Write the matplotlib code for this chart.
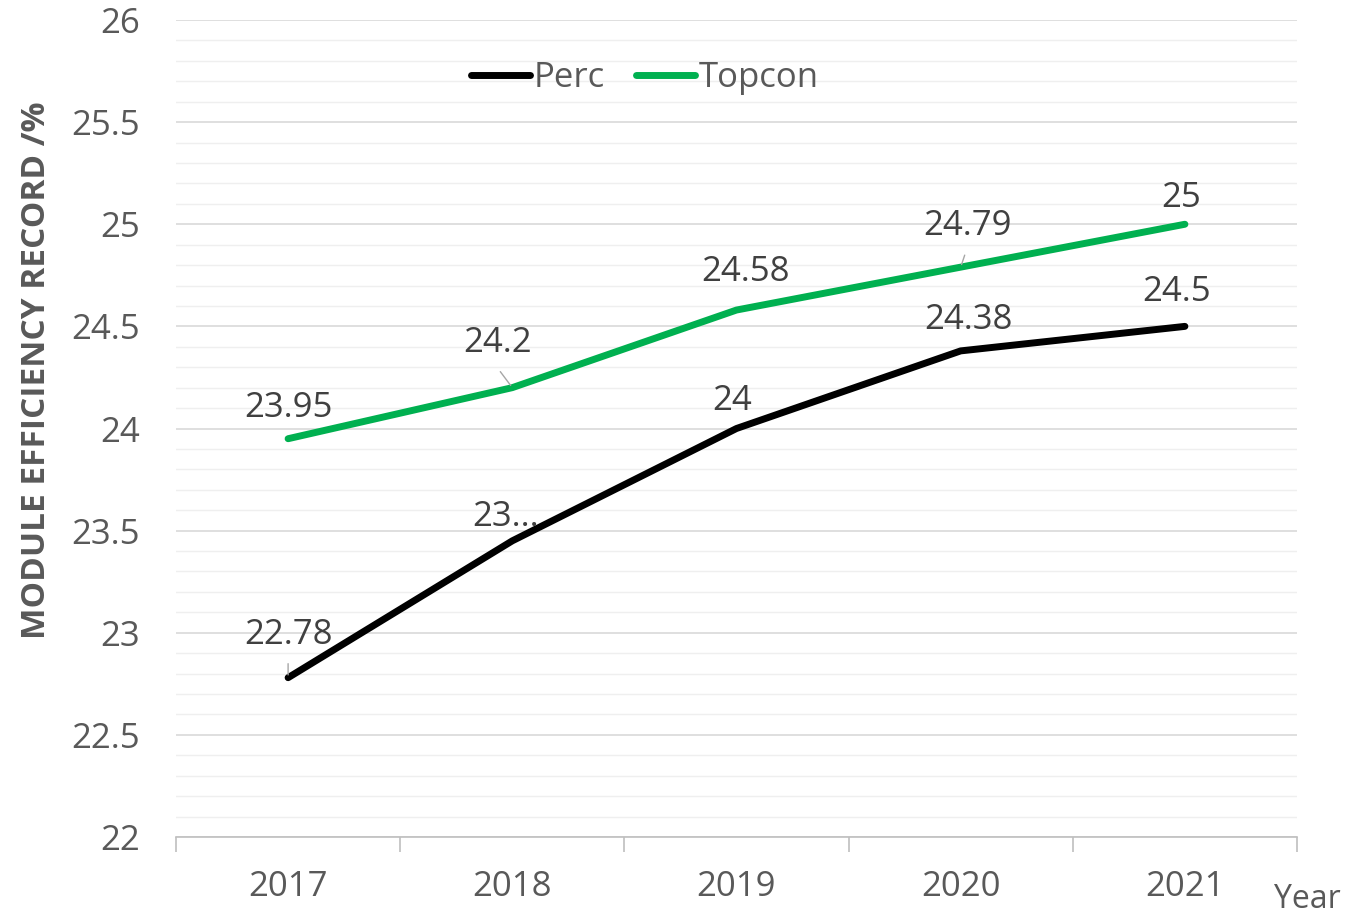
import matplotlib
matplotlib.use("Agg")
import matplotlib.pyplot as plt
from matplotlib.ticker import MultipleLocator

years = ["2017", "2018", "2019", "2020", "2021"]
perc = [22.78, 23.45, 24.0, 24.38, 24.5]
topcon = [23.95, 24.2, 24.58, 24.79, 25.0]
perc_labels = ["22.78", "23...", "24", "24.38", "24.5"]
topcon_labels = ["23.95", "24.2", "24.58", "24.79", "25"]

plt.rcParams['font.family'] = ['Open Sans', 'DejaVu Sans']
txt = "#595959"

fig = plt.figure(figsize=(13.51, 9.16), dpi=100)
ax = fig.add_axes([176/1351, 1-837/916, (1297-176)/1351, (837-20)/916])

x = list(range(len(years)))
ax.plot(x, perc, color="black", lw=5, solid_capstyle="round", label="Perc", zorder=3)
ax.plot(x, topcon, color="#00b050", lw=5, solid_capstyle="round", label="Topcon", zorder=3)

ax.set_xlim(-0.5, 4.5)
ax.set_ylim(22, 26)
ax.yaxis.set_major_locator(MultipleLocator(0.5))
ax.yaxis.set_minor_locator(MultipleLocator(0.1))
ax.grid(which="major", axis="y", color="#d9d9d9", lw=1.2)
ax.grid(which="minor", axis="y", color="#efefef", lw=1.0)
ax.set_axisbelow(True)
for s in ["top", "right", "left"]:
    ax.spines[s].set_visible(False)
ax.spines["bottom"].set_color("#bfbfbf")
ax.spines["bottom"].set_linewidth(1.2)

ax.set_xticks(x)
ax.set_xticklabels(years, fontsize=25, color=txt)
ax.set_xticks([i - 0.5 for i in range(6)], minor=True)
ax.tick_params(axis="x", which="major", length=0, pad=24)
ax.tick_params(axis="x", which="minor", length=11, color="#bfbfbf", width=1.2)
ax.tick_params(axis="y", which="both", length=0, pad=26, labelsize=25, labelcolor=txt)
ax.set_yticklabels([("%g" % v) for v in ax.get_yticks()])

fig.text(37/1351, 1-370/916, "MODULE EFFICIENCY RECORD /%", rotation=90, ha="center", va="center",
         fontsize=24, fontweight="bold", color=txt)
fig.text(1307/1351, 1-900/916, "Year", ha="center", va="center", fontsize=23, color=txt)

# data labels (offsets in pixels)
t_off = [(0, 31), (-15, 45), (9, 38), (7, 41), (-4, 26)]
p_off = [(0, 43), (-7, 24), (-4, 27), (8, 31), (-8, 34)]
# leader lines for labels pushed away from their points
lead_t = {1: (-12, 16), 3: (4, 12)}
lead_p = {0: (0, 14)}
for i in range(5):
    ax.annotate(topcon_labels[i], (x[i], topcon[i]), xytext=t_off[i], textcoords="offset pixels",
                ha="center", va="center", fontsize=25, color="#404040")
    ax.annotate(perc_labels[i], (x[i], perc[i]), xytext=p_off[i], textcoords="offset pixels",
                ha="center", va="center", fontsize=25, color="#404040")
    if i in lead_t:
        ax.annotate("", (x[i], topcon[i]), xytext=lead_t[i], textcoords="offset pixels",
                    arrowprops=dict(arrowstyle="-", color="#a6a6a6", lw=1, shrinkA=0, shrinkB=2))
    if i in lead_p:
        ax.annotate("", (x[i], perc[i]), xytext=lead_p[i], textcoords="offset pixels",
                    arrowprops=dict(arrowstyle="-", color="#a6a6a6", lw=1, shrinkA=0, shrinkB=2))

leg = ax.legend(loc="center", bbox_to_anchor=((645-176)/1121, (837-78)/817), ncol=2, frameon=False,
                fontsize=25, handlelength=1.7, handletextpad=0.1, columnspacing=0.9)
for t in leg.get_texts():
    t.set_color(txt)

fig.savefig("out.png", dpi=100)
